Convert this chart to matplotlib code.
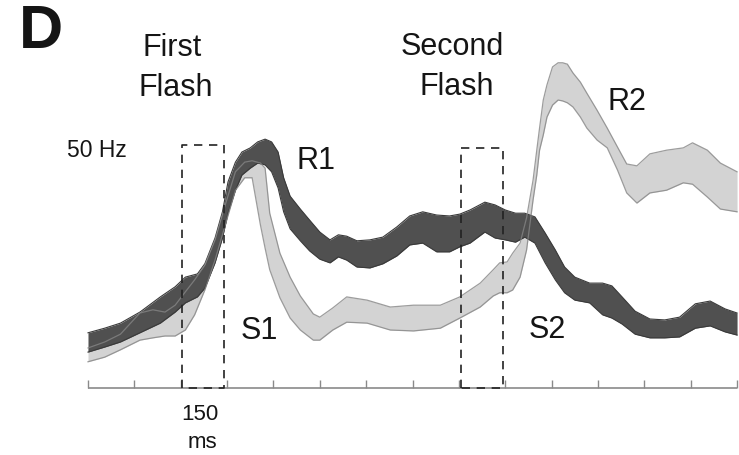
import numpy as np
import matplotlib.pyplot as plt

plt.rcParams['font.family'] = ['Liberation Sans', 'DejaVu Sans']

# dark band (R1 / S2): time in ms, lower and upper rate in Hz
t_dark = [0, 18, 35, 56, 78, 94, 105, 118, 126, 137, 145, 151, 159, 166, 175, 183,
          191, 198, 205, 211, 218, 229, 239, 250, 261, 270, 279, 290, 304, 318, 333,
          347, 361, 376, 390, 401, 412, 428, 439, 450, 461, 471, 482, 493, 504, 514,
          525, 541, 555, 565, 576, 590, 606, 622, 638, 655, 671, 687, 700]
dark_hi = [12.0, 13.0, 14.1, 16.5, 19.8, 22.0, 24.1, 24.8, 27.0, 32.6, 38.3, 44.8,
           49.1, 51.3, 52.2, 53.5, 54.1, 53.5, 51.3, 45.7, 41.7, 38.9, 36.5, 33.9,
           32.2, 33.3, 33.0, 32.0, 32.2, 32.8, 35.0, 37.4, 38.3, 37.6, 37.4, 37.8,
           38.7, 40.4, 39.8, 38.7, 38.0, 38.0, 37.2, 33.7, 30.0, 26.3, 24.1, 22.8,
           22.8, 22.2, 19.8, 16.7, 15.0, 14.8, 15.4, 18.3, 18.9, 17.2, 16.3]
dark_lo = [7.8, 8.9, 10.0, 12.0, 14.1, 16.5, 18.5, 19.8, 21.7, 27.2, 32.6, 38.0,
           43.0, 46.3, 47.8, 48.9, 48.5, 47.0, 43.5, 38.3, 34.6, 32.0, 29.8, 28.0,
           27.2, 28.5, 27.8, 26.3, 26.1, 27.0, 28.7, 31.1, 31.5, 29.6, 29.6, 30.7,
           31.5, 33.9, 32.6, 32.2, 31.7, 32.8, 31.5, 27.2, 23.5, 20.7, 19.1, 18.5,
           15.9, 15.2, 13.9, 11.7, 10.9, 10.9, 11.1, 13.0, 13.5, 12.2, 11.5]

# light band (S1 / R2)
t_light = [0, 18, 35, 56, 70, 83, 94, 105, 115, 126, 137, 148, 159, 169, 177, 186,
           191, 196, 207, 218, 229, 243, 250, 264, 279, 301, 326, 351, 380, 401, 423,
           437, 444, 452, 458, 466, 473, 480, 484, 487, 491, 495, 501, 507, 512, 517,
           523, 531, 538, 549, 560, 571, 581, 592, 606, 624, 642, 652, 668, 682, 700]
light_hi = [8.7, 10.0, 11.7, 16.3, 17.0, 16.5, 18.0, 20.9, 23.5, 26.7, 32.2, 39.8,
            47.0, 49.1, 49.4, 48.9, 47.8, 38.0, 29.3, 24.1, 20.0, 16.1, 15.4, 17.4,
            19.8, 19.1, 17.6, 18.0, 18.0, 19.8, 22.8, 25.7, 27.2, 27.4, 29.3, 31.5,
            37.0, 45.2, 51.7, 56.5, 62.6, 65.9, 69.8, 70.7, 70.7, 70.4, 68.5, 66.5,
            64.1, 60.4, 56.5, 52.4, 48.7, 48.3, 50.9, 51.7, 52.2, 53.3, 51.7, 48.9, 47.0]
light_lo = [5.7, 6.7, 8.3, 10.4, 10.9, 11.3, 11.3, 12.6, 15.9, 21.3, 27.8, 35.4,
            43.0, 45.7, 45.7, 35.4, 30.4, 25.7, 19.6, 15.2, 12.6, 10.4, 10.4, 12.6,
            14.3, 14.1, 12.6, 12.4, 13.0, 15.2, 17.6, 20.0, 20.7, 20.7, 21.3, 24.1,
            30.0, 40.9, 46.3, 51.7, 55.0, 58.9, 61.5, 62.6, 62.4, 62.0, 61.1, 58.9,
            56.5, 53.9, 52.2, 47.4, 42.4, 40.2, 42.4, 43.0, 44.6, 44.3, 41.5, 38.9, 38.3]

ticks = np.arange(0, 701, 50)
box1 = (101, 147, 52.8)   # start, end, top
box2 = (402, 448, 52.2)

fig = plt.figure(figsize=(7.39, 4.55), dpi=100)
ax = fig.add_axes([0, 0, 1, 1])
ax.set_xlim(-94.9, 702.1)
ax.set_ylim(-14.57, 84.35)
ax.axis('off')

ax.fill_between(t_light, light_lo, light_hi, color='#d3d3d3', lw=0, zorder=1)
ax.fill_between(t_dark, dark_lo, dark_hi, color='#505050', lw=0, zorder=2)
ax.plot(t_dark, dark_hi, color='#3a3a3a', lw=0.8, zorder=3)
ax.plot(t_dark, dark_lo, color='#3a3a3a', lw=0.8, zorder=3)
ax.plot(t_light, light_hi, color='#858585', lw=0.9, alpha=0.8, zorder=4)
ax.plot(t_light, light_lo, color='#858585', lw=0.9, alpha=0.8, zorder=4)

# time axis
ax.hlines(0, 0, 700, color='#8a8a8a', lw=1.2, zorder=2)
ax.vlines(ticks, 0, 1.8, color='#8a8a8a', lw=1.0, zorder=2)

# flash windows
for a, b, top in [box1, box2]:
    ax.plot([a, a, b, b, a], [0, top, top, 0, 0], color='#222222', lw=1.2,
            ls=(0, (5, 4)), zorder=5)

def ftext(x, y, s, size, **kw):
    fig.text(x / 739, 1 - y / 455, s, fontsize=size, ha='center', va='center',
             color='#151515', **kw)

ftext(41, 33, 'D', 44, fontweight='bold')
ftext(172, 48, 'First', 22)
ftext(176, 88, 'Flash', 22)
ftext(452, 47, 'Second', 22)
ftext(457, 87, 'Flash', 22)
ftext(97, 151, '50 Hz', 16.5)
ftext(316, 161, 'R1', 22)
ftext(627, 102, 'R2', 22)
ftext(259, 331, 'S1', 22)
ftext(547, 330, 'S2', 22)
ftext(200, 415, '150', 16)
ftext(202, 442, 'ms', 16)

plt.savefig('out.png', dpi=100)
